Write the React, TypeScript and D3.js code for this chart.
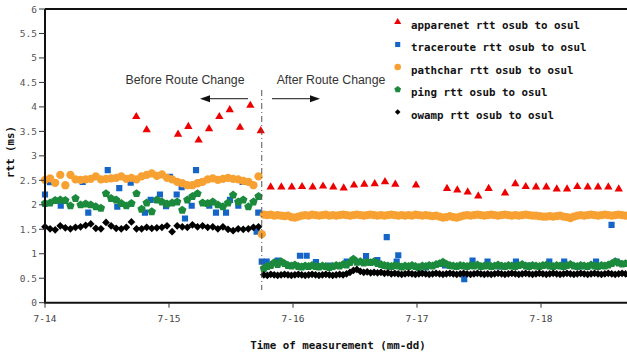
import React from "react";
import * as d3 from "d3";

// ---- data (days since 7-14 00:00) ----
const dayTicks = [0, 1, 2, 3, 4];
const dayLabels = ["7-14", "7-15", "7-16", "7-17", "7-18"];
const yTicks = [0, 0.5, 1, 1.5, 2, 2.5, 3, 3.5, 4, 4.5, 5, 5.5, 6];
const routeChangeDay = 1.748;

const seriesNames = [
  "apparenet rtt osub to osul",
  "traceroute rtt osub to osul",
  "pathchar rtt osub to osul",
  "ping rtt osub to osul",
  "owamp rtt osub to osul",
];
const seriesColors = ["#ee0000", "#1565c8", "#f8a133", "#1c8a3c", "#000000"];

// apparenet (irregular)
const apparenetDays = [0.736, 0.82, 1.073, 1.156, 1.239, 1.323, 1.406, 1.49, 1.573, 1.656, 1.74,
  1.82, 1.906, 1.99, 2.073, 2.159, 2.242, 2.325, 2.409, 2.492, 2.575, 2.659, 2.742, 2.825, 2.992,
  3.242, 3.325, 3.409, 3.494, 3.578, 3.71, 3.793, 3.877, 3.96, 4.043, 4.127, 4.21, 4.293, 4.377,
  4.46, 4.543, 4.627];
const apparenetValues = [3.8, 3.53, 3.44, 3.6, 3.32, 3.55, 3.8, 3.94, 3.58, 4.03, 3.51,
  2.36, 2.36, 2.36, 2.37, 2.36, 2.38, 2.36, 2.34, 2.4, 2.42, 2.43, 2.47, 2.42, 2.4,
  2.33, 2.3, 2.26, 2.18, 2.33, 2.24, 2.43, 2.37, 2.36, 2.36, 2.32, 2.32, 2.37, 2.36,
  2.36, 2.36, 2.32];

// traceroute (irregular)
const tracerouteDays = [0.0, 0.04, 0.127, 0.304, 0.349, 0.506, 0.583, 0.599, 0.691, 0.806, 0.852,
  0.927, 0.976, 1.008, 1.062, 1.102, 1.129, 1.183, 1.218, 1.25, 1.325, 1.379, 1.46, 1.492, 1.559,
  1.594, 1.707, 1.72,
  1.748, 1.788, 1.877, 2.056, 2.11, 2.185, 2.298, 2.433, 2.589, 2.68, 2.756, 2.836, 2.849, 2.944,
  3.073, 3.226, 3.381, 3.448, 3.569, 3.669, 3.798, 3.911, 4.067, 4.187, 4.315, 4.444, 4.569, 4.61];
const tracerouteValues = [2.21, 2.46, 1.98, 2.47, 1.84, 2.71, 1.96, 2.34, 2.45, 1.84, 2.1,
  2.21, 1.97, 2.57, 2.21, 2.36, 1.72, 1.98, 2.71, 2.46, 1.98, 1.84, 1.84, 2.1, 1.98,
  2.47, 1.45, 1.84,
  0.84, 0.84, 0.86, 0.96, 0.96, 0.83, 0.76, 0.84, 0.95, 0.87, 1.34, 0.84, 0.97, 0.75,
  0.72, 0.76, 0.48, 0.86, 0.84, 0.74, 0.84, 0.76, 0.84, 0.84, 0.74, 0.84, 1.59, 0.84];

// regular sampling before and after the route change
const beforeStartDay = 0;
const beforeStepDay = 0.041;
const afterStartDay = 1.765;
const afterStepDay = 1 / 36;

const pathcharBefore = [2.51, 2.54, 2.45, 2.61, 2.4, 2.61, 2.52, 2.51, 2.52, 2.53,
  2.58, 2.52, 2.53, 2.54, 2.55, 2.58, 2.53, 2.55, 2.52, 2.58,
  2.61, 2.64, 2.59, 2.62, 2.55, 2.52, 2.47, 2.44, 2.4, 2.4,
  2.44, 2.47, 2.52, 2.54, 2.51, 2.53, 2.55, 2.53, 2.52, 2.49,
  2.47, 2.4, 2.58];
const pathcharTransitionDays = [1.748];
const pathcharTransitionValues = [1.4];
const pathcharAfter = [1.8, 1.79, 1.8, 1.78, 1.79, 1.78, 1.77, 1.78, 1.75, 1.74, 1.76,
  1.78, 1.79, 1.78, 1.8, 1.79, 1.78, 1.79, 1.8, 1.78, 1.79,
  1.78, 1.79, 1.8, 1.79, 1.78, 1.79, 1.8, 1.79, 1.78, 1.79,
  1.8, 1.79, 1.78, 1.79, 1.78, 1.79, 1.8, 1.79, 1.78, 1.79,
  1.78, 1.79, 1.78, 1.8, 1.79, 1.78, 1.79, 1.78, 1.77, 1.78,
  1.76, 1.74, 1.75, 1.77, 1.75, 1.74, 1.76, 1.78, 1.79, 1.78,
  1.79, 1.8, 1.79, 1.78, 1.79, 1.8, 1.79, 1.78, 1.79, 1.8,
  1.79, 1.78, 1.79, 1.78, 1.79, 1.8, 1.79, 1.78, 1.78, 1.77,
  1.76, 1.76, 1.77, 1.76, 1.77, 1.78, 1.76, 1.75, 1.73, 1.76,
  1.78, 1.79, 1.78, 1.79, 1.8, 1.79, 1.78, 1.79, 1.8, 1.79,
  1.78, 1.79, 1.8, 1.79, 1.78];

const pingBefore = [2.03, 2.04, 2.09, 2.1, 2.09, 1.98, 2.13, 2.0, 2.02, 2.0,
  1.96, 1.93, 2.23, 2.13, 2.1, 2.03, 1.98, 2.03, 2.23, 1.91,
  2.04, 1.86, 2.1, 2.06, 2.02, 2.04, 2.06, 1.89, 2.1, 2.17,
  2.23, 2.04, 2.03, 2.06, 2.0, 1.96, 2.04, 2.2, 2.06, 2.1,
  1.96, 2.06, 2.17];
const pingAfter = [0.7, 0.74, 0.76, 0.82, 0.78, 0.84, 0.8, 0.76, 0.75, 0.77, 0.74,
  0.73, 0.75, 0.74, 0.76, 0.74, 0.73, 0.75, 0.74, 0.72, 0.74,
  0.76, 0.75, 0.78, 0.77, 0.82, 0.89, 0.83, 0.84, 0.81, 0.83,
  0.82, 0.84, 0.8, 0.78, 0.76, 0.75, 0.74, 0.76, 0.75, 0.73,
  0.75, 0.74, 0.76, 0.74, 0.72, 0.75, 0.74, 0.76, 0.75, 0.78,
  0.8, 0.83, 0.79, 0.76, 0.75, 0.74, 0.76, 0.75, 0.74, 0.76,
  0.75, 0.77, 0.74, 0.75, 0.76, 0.74, 0.75, 0.77, 0.75, 0.74,
  0.76, 0.75, 0.74, 0.76, 0.78, 0.75, 0.74, 0.76, 0.75, 0.74,
  0.76, 0.77, 0.75, 0.74, 0.76, 0.75, 0.74, 0.76, 0.78, 0.75,
  0.74, 0.76, 0.75, 0.74, 0.77, 0.75, 0.74, 0.76, 0.75, 0.77,
  0.8, 0.84, 0.81, 0.79, 0.8];

const owampBefore = [1.55, 1.51, 1.49, 1.57, 1.53, 1.51, 1.54, 1.55, 1.58, 1.61,
  1.52, 1.51, 1.64, 1.57, 1.52, 1.51, 1.54, 1.65, 1.51, 1.51,
  1.54, 1.52, 1.53, 1.54, 1.57, 1.45, 1.57, 1.55, 1.54, 1.59,
  1.55, 1.57, 1.54, 1.55, 1.51, 1.55, 1.5, 1.47, 1.51, 1.5,
  1.51, 1.54, 1.55];
const owampAfter = [0.57, 0.56, 0.58, 0.57, 0.56, 0.57, 0.58, 0.57, 0.56, 0.57, 0.58,
  0.57, 0.56, 0.57, 0.58, 0.57, 0.56, 0.57, 0.58, 0.57, 0.56,
  0.57, 0.58, 0.57, 0.59, 0.62, 0.66, 0.68, 0.64, 0.62, 0.63,
  0.61, 0.62, 0.61, 0.62, 0.6, 0.61, 0.59, 0.6, 0.59, 0.58,
  0.59, 0.6, 0.59, 0.58, 0.59, 0.6, 0.59, 0.58, 0.59, 0.6,
  0.59, 0.58, 0.59, 0.6, 0.59, 0.58, 0.59, 0.6, 0.59, 0.58,
  0.59, 0.6, 0.59, 0.58, 0.59, 0.58, 0.59, 0.6, 0.59, 0.58,
  0.59, 0.6, 0.59, 0.58, 0.59, 0.6, 0.59, 0.58, 0.59, 0.6,
  0.59, 0.58, 0.59, 0.6, 0.59, 0.58, 0.59, 0.6, 0.59, 0.58,
  0.59, 0.6, 0.59, 0.58, 0.59, 0.6, 0.59, 0.58, 0.59, 0.6,
  0.59, 0.58, 0.59, 0.6, 0.59];

type Pt = { d: number; v: number };
const zipPts = (days: number[], vals: number[]): Pt[] => vals.map((v, i) => ({ d: days[i], v }));
const sampled = (start: number, step: number, vals: number[]): Pt[] =>
  vals.map((v, i) => ({ d: start + i * step, v }));

const W = 627;
const H = 356;
const left = 45;
const top = 9;
const bottom = 302.7;

export default function App() {
  const x = d3.scaleLinear().domain([0, 5]).range([left, left + 124 * 5]);
  const y = d3.scaleLinear().domain([0, 6]).range([bottom, top]);

  const triangle = d3.symbol().type(d3.symbolTriangle).size(30)() as string;
  const square = d3.symbol().type(d3.symbolSquare).size(38)() as string;
  const circle = d3.symbol().type(d3.symbolCircle).size(54)() as string;
  const diamond = d3.symbol().type(d3.symbolSquare).size(30)() as string;
  const pentPts: [number, number][] = d3.range(5).map((k) => {
    const a = -Math.PI / 2 + (k * 2 * Math.PI) / 5;
    return [4.4 * Math.cos(a), 4.4 * Math.sin(a)];
  });
  const pentagon = (d3.line()(pentPts) as string) + "Z";

  const legendTriangle = d3.symbol().type(d3.symbolTriangle).size(22)() as string;
  const legendSquare = d3.symbol().type(d3.symbolSquare).size(26)() as string;
  const legendCircle = d3.symbol().type(d3.symbolCircle).size(34)() as string;
  const legendDiamond = d3.symbol().type(d3.symbolSquare).size(16)() as string;
  const legendPentPts: [number, number][] = pentPts.map(([a, b]) => [a * 0.8, b * 0.8]);
  const legendPentagon = (d3.line()(legendPentPts) as string) + "Z";

  const apparenet = zipPts(apparenetDays, apparenetValues);
  const traceroute = zipPts(tracerouteDays, tracerouteValues);
  const pathchar = [
    ...sampled(beforeStartDay, beforeStepDay, pathcharBefore),
    ...zipPts(pathcharTransitionDays, pathcharTransitionValues),
    ...sampled(afterStartDay, afterStepDay, pathcharAfter),
  ];
  const ping = [
    ...sampled(beforeStartDay, beforeStepDay, pingBefore),
    ...sampled(afterStartDay, afterStepDay, pingAfter),
  ];
  const owamp = [
    ...sampled(beforeStartDay, beforeStepDay, owampBefore),
    ...sampled(afterStartDay, afterStepDay, owampAfter),
  ];

  const series: { pts: Pt[]; path: string; lpath: string; rot: number }[] = [
    { pts: apparenet, path: triangle, lpath: legendTriangle, rot: 0 },
    { pts: traceroute, path: square, lpath: legendSquare, rot: 0 },
    { pts: pathchar, path: circle, lpath: legendCircle, rot: 0 },
    { pts: ping, path: pentagon, lpath: legendPentagon, rot: 0 },
    { pts: owamp, path: diamond, lpath: legendDiamond, rot: 45 },
  ];

  const mono = "'DejaVu Sans Mono', monospace";
  const sans = "'Liberation Sans', Arial, sans-serif";
  const rcX = x(routeChangeDay);
  const arrowY = 98.7;

  return (
    <svg
      width={W}
      height={H}
      style={{ position: "absolute", left: 0, top: 0, background: "#fff" }}
    >
      <rect x={0} y={0} width={W} height={H} fill="#fff" />
      <defs>
        <clipPath id="plotclip">
          <rect x={left - 6} y={top - 6} width={W - left + 6} height={bottom - top + 12} />
        </clipPath>
      </defs>

      {/* markers */}
      <g clipPath="url(#plotclip)">
        {series.map((s, si) => (
          <g key={si} fill={seriesColors[si]}>
            {s.pts.map((p, i) => (
              <path
                key={i}
                d={s.path}
                transform={`translate(${x(p.d)},${y(p.v)})${s.rot ? ` rotate(${s.rot})` : ""}`}
              />
            ))}
          </g>
        ))}
      </g>

      {/* route change line */}
      <line x1={rcX} x2={rcX} y1={90} y2={290} stroke="#555" strokeWidth={1} strokeDasharray="6,3,1,3" />

      {/* annotations */}
      <text x={185} y={84} textAnchor="middle" fontFamily={sans} fontSize={12.3} fill="#333">
        Before Route Change
      </text>
      <text x={331} y={84} textAnchor="middle" fontFamily={sans} fontSize={12.3} fill="#333">
        After Route Change
      </text>
      <line x1={248} x2={207} y1={arrowY} y2={arrowY} stroke="#444" strokeWidth={1.2} />
      <path d={`M200,${arrowY} L210,${arrowY - 3.5} L210,${arrowY + 3.5} Z`} fill="#111" />
      <line x1={272} x2={313} y1={arrowY} y2={arrowY} stroke="#444" strokeWidth={1.2} />
      <path d={`M320,${arrowY} L310,${arrowY - 3.5} L310,${arrowY + 3.5} Z`} fill="#111" />

      {/* axes */}
      <line x1={left} x2={W} y1={top} y2={top} stroke="#111" strokeWidth={2} />
      <line x1={left} x2={left} y1={top} y2={bottom} stroke="#111" strokeWidth={2} />
      <line x1={left - 1} x2={W} y1={bottom} y2={bottom} stroke="#111" strokeWidth={2} />
      {yTicks.map((t) => (
        <g key={t}>
          <line x1={left - 6} x2={left} y1={y(t)} y2={y(t)} stroke="#333" strokeWidth={1} />
          <text
            x={37}
            y={y(t) + 3.5}
            textAnchor="end"
            fontFamily={mono}
            fontSize={9.5}
            fill="#555"
          >
            {t}
          </text>
        </g>
      ))}
      {dayTicks.map((t, i) => (
        <g key={t}>
          <line x1={x(t)} x2={x(t)} y1={bottom} y2={bottom + 5} stroke="#333" strokeWidth={1} />
          <text
            x={x(t)}
            y={bottom + 19}
            textAnchor="middle"
            fontFamily={mono}
            fontSize={9.5}
            fill="#444"
          >
            {dayLabels[i]}
          </text>
        </g>
      ))}
      <text x={338} y={349} textAnchor="middle" fontFamily={mono} fontSize={10.8} fontWeight="bold" fill="#111">
        Time of measurement (mm-dd)
      </text>
      <text
        transform={`translate(14,152) rotate(-90)`}
        textAnchor="middle"
        fontFamily={mono}
        fontSize={10.8}
        fontWeight="bold"
        fill="#111"
      >
        rtt (ms)
      </text>

      {/* legend */}
      {seriesNames.map((name, i) => {
        const ly = 25 + i * 22.5;
        const s = series[i];
        return (
          <g key={name}>
            <path
              d={s.lpath}
              fill={seriesColors[i]}
              transform={`translate(397.7,${ly - 3})${s.rot ? ` rotate(${s.rot})` : ""}`}
            />
            <text x={411} y={ly + 3.5} fontFamily={mono} fontSize={10.8} fontWeight="bold" fill="#111">
              {name}
            </text>
          </g>
        );
      })}
    </svg>
  );
}
